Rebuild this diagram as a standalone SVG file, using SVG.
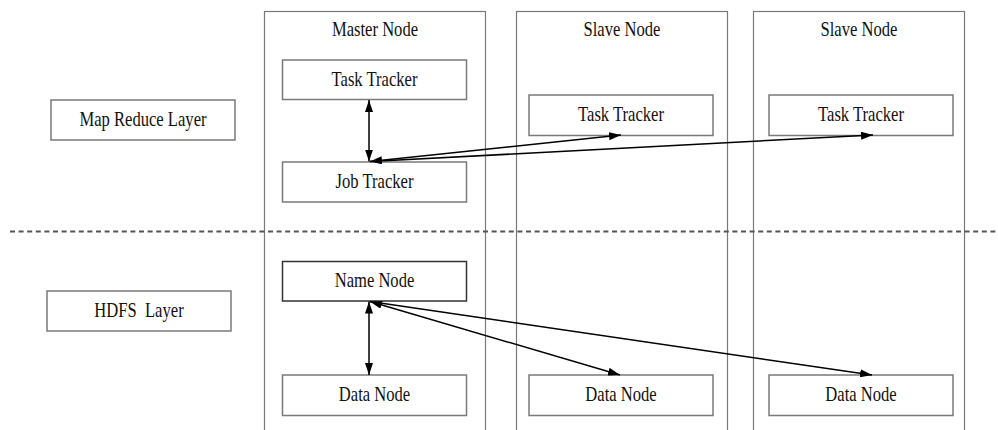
<svg xmlns="http://www.w3.org/2000/svg" width="998" height="430" viewBox="0 0 998 430">
  <style>
    .col { fill: none; stroke: #7a7a7a; stroke-width: 1.2; }
    .box { fill: #ffffff; stroke: #7a7a7a; stroke-width: 1.5; }
    .box.dark { stroke: #333333; }
    .lbl { font-family: "Liberation Serif", "Times New Roman", serif; font-size: 20px; fill: #111111; text-anchor: middle;
           transform-box: fill-box; transform-origin: center; transform: scaleX(0.83); }
    .link { fill: none; stroke: #000000; stroke-width: 1.5; }
    .sep { fill: none; stroke: #555555; stroke-width: 2; stroke-dasharray: 5 3.6; }
  </style>
  <defs>
    <marker id="head" viewBox="0 0 12 8" refX="12" refY="4" markerWidth="12" markerHeight="8" markerUnits="userSpaceOnUse" orient="auto">
      <path d="M0,0 L12,4 L0,8 Z" fill="#000000"/>
    </marker>
    <marker id="tail" viewBox="0 0 12 8" refX="0" refY="4" markerWidth="12" markerHeight="8" markerUnits="userSpaceOnUse" orient="auto">
      <path d="M12,0 L0,4 L12,8 Z" fill="#000000"/>
    </marker>
  </defs>

  <rect width="998" height="430" fill="#ffffff"/>

  <!-- machine columns -->
  <g id="master-column">
    <rect class="col" x="264.5" y="11.5" width="221" height="430"/>
    <text class="lbl" x="375" y="36">Master Node</text>
  </g>
  <g id="slave-column-1">
    <rect class="col" x="516.5" y="11.5" width="211" height="430"/>
    <text class="lbl" x="622" y="36">Slave Node</text>
  </g>
  <g id="slave-column-2">
    <rect class="col" x="753.5" y="11.5" width="211" height="430"/>
    <text class="lbl" x="859" y="36">Slave Node</text>
  </g>

  <!-- layer divider -->
  <line class="sep" x1="10" y1="231.5" x2="998" y2="231.5"/>

  <!-- layer labels -->
  <g id="map-reduce-layer">
    <rect class="box" x="51" y="100" width="184" height="40"/>
    <text class="lbl" x="143" y="126">Map Reduce Layer</text>
  </g>
  <g id="hdfs-layer">
    <rect class="box" x="47" y="291" width="184" height="40"/>
    <text class="lbl" x="139" y="317" xml:space="preserve">HDFS  Layer</text>
  </g>

  <!-- MapReduce daemons -->
  <g id="master-task-tracker">
    <rect class="box" x="282.5" y="60" width="184" height="39.5"/>
    <text class="lbl" x="374.5" y="86">Task Tracker</text>
  </g>
  <g id="job-tracker">
    <rect class="box" x="282.5" y="162" width="184" height="40"/>
    <text class="lbl" x="374.5" y="188">Job Tracker</text>
  </g>
  <g id="slave1-task-tracker">
    <rect class="box" x="529" y="95" width="184" height="40.5"/>
    <text class="lbl" x="621" y="121.5">Task Tracker</text>
  </g>
  <g id="slave2-task-tracker">
    <rect class="box" x="769" y="95" width="184" height="40.5"/>
    <text class="lbl" x="861" y="121.5">Task Tracker</text>
  </g>

  <!-- HDFS daemons -->
  <g id="name-node">
    <rect class="box dark" x="282.5" y="261.5" width="184" height="39.5"/>
    <text class="lbl" x="374.5" y="287.5">Name Node</text>
  </g>
  <g id="master-data-node">
    <rect class="box" x="282.5" y="375" width="184" height="40.5"/>
    <text class="lbl" x="374.5" y="401.5">Data Node</text>
  </g>
  <g id="slave1-data-node">
    <rect class="box" x="529" y="375" width="184" height="40.5"/>
    <text class="lbl" x="621" y="401.5">Data Node</text>
  </g>
  <g id="slave2-data-node">
    <rect class="box" x="769" y="375" width="184" height="40.5"/>
    <text class="lbl" x="861" y="401.5">Data Node</text>
  </g>

  <!-- connectors -->
  <g id="connectors">
    <line class="link" x1="369" y1="100" x2="369" y2="161.5" marker-start="url(#tail)" marker-end="url(#head)"/>
    <line class="link" x1="370" y1="161.5" x2="621" y2="135" marker-start="url(#tail)" marker-end="url(#head)"/>
    <line class="link" x1="370" y1="161.5" x2="873" y2="135" marker-end="url(#head)"/>

    <line class="link" x1="369" y1="301.5" x2="369" y2="375" marker-start="url(#tail)" marker-end="url(#head)"/>
    <line class="link" x1="370" y1="301.5" x2="620" y2="375" marker-start="url(#tail)" marker-end="url(#head)"/>
    <line class="link" x1="370" y1="301.5" x2="872" y2="375" marker-end="url(#head)"/>
  </g>
</svg>
